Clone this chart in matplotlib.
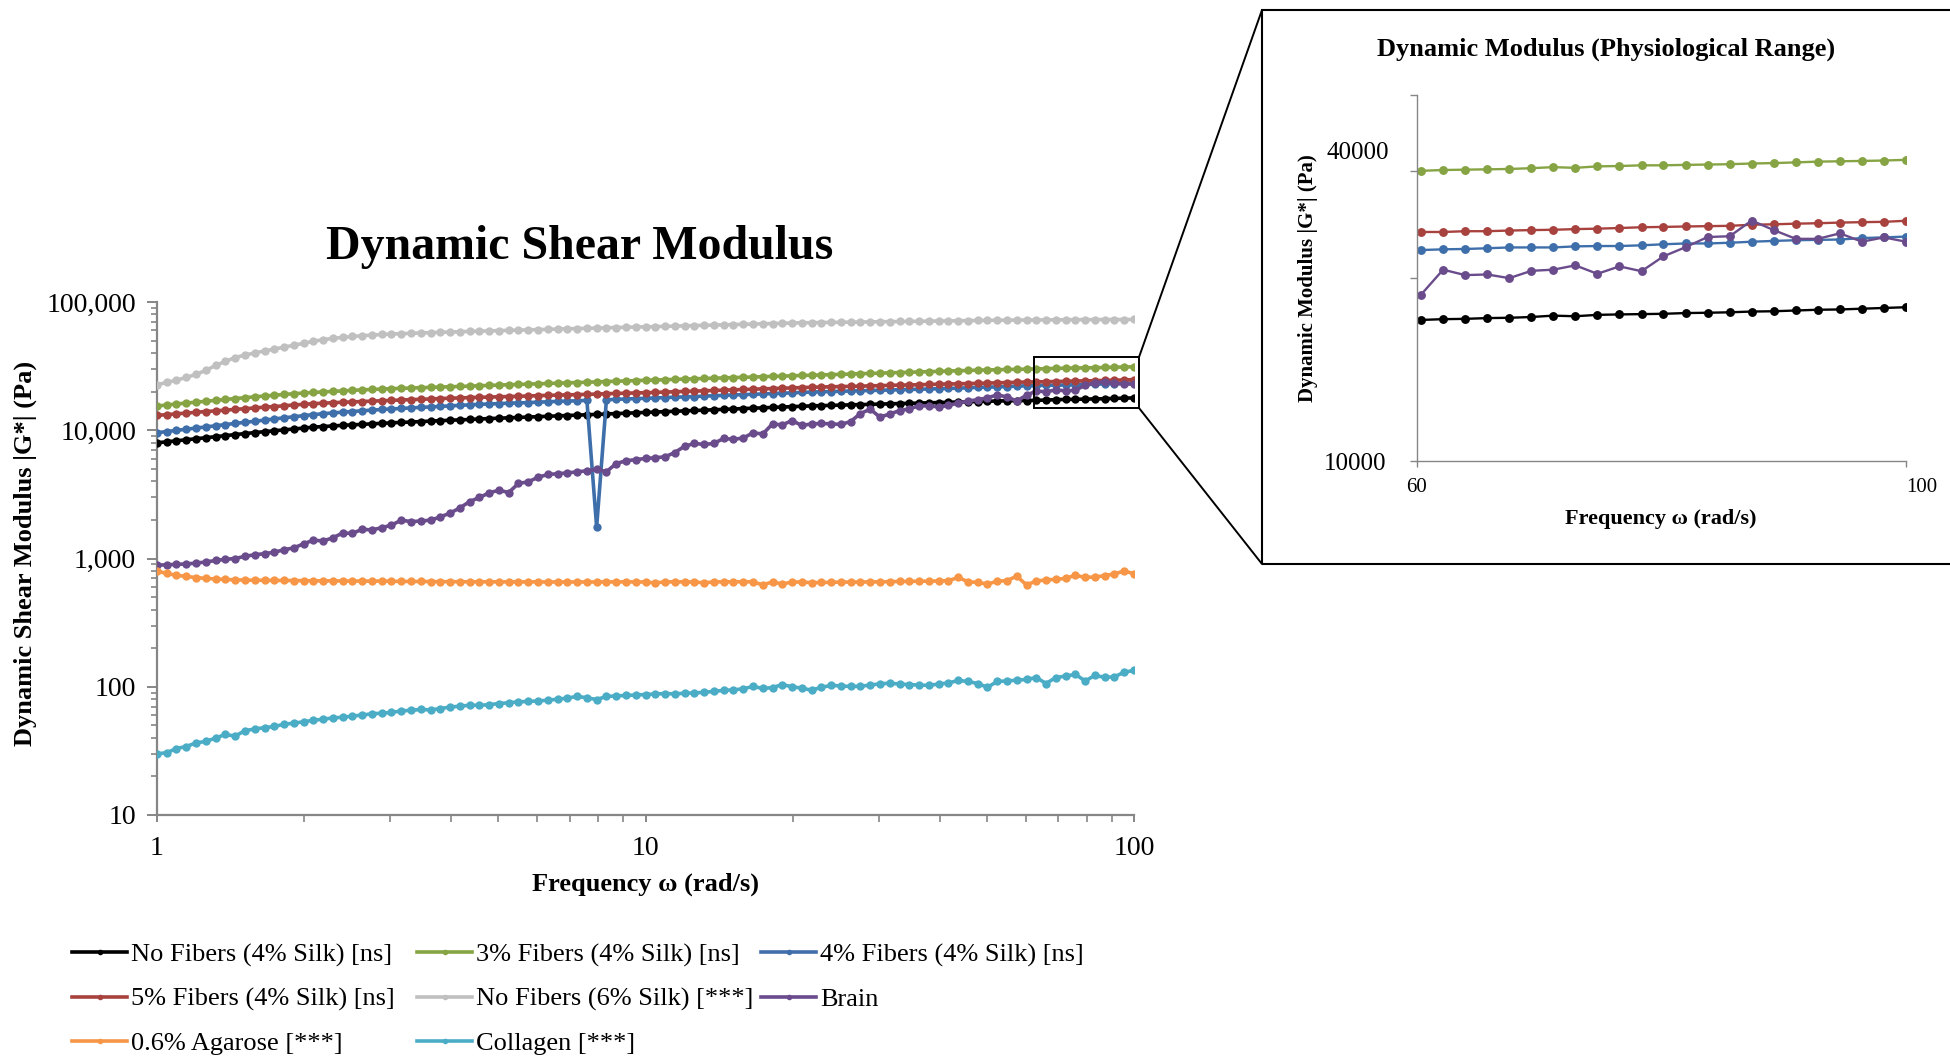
import matplotlib
matplotlib.use('Agg')
import matplotlib.pyplot as plt
from matplotlib.lines import Line2D
from matplotlib.patches import Rectangle, ConnectionPatch
from matplotlib.ticker import FixedLocator, NullLocator, LogLocator, NullFormatter

plt.rcParams['font.family'] = ['Liberation Serif', 'DejaVu Serif']

# ---------------- data (main chart, log frequency sweep) ----------------
FREQ = [1.0, 1.047, 1.096, 1.148, 1.202, 1.259, 1.318, 1.380, 1.445, 1.514,
        1.585, 1.660, 1.738, 1.820, 1.905, 1.995, 2.089, 2.188, 2.291, 2.399,
        2.512, 2.630, 2.754, 2.884, 3.020, 3.162, 3.311, 3.467, 3.631, 3.802,
        3.981, 4.169, 4.365, 4.571, 4.786, 5.012, 5.248, 5.495, 5.754, 6.026,
        6.310, 6.607, 6.918, 7.244, 7.586, 7.943, 8.318, 8.710, 9.120, 9.550,
        10.0, 10.47, 10.96, 11.48, 12.02, 12.59, 13.18, 13.80, 14.45, 15.14,
        15.85, 16.60, 17.38, 18.20, 19.05, 19.95, 20.89, 21.88, 22.91, 23.99,
        25.12, 26.30, 27.54, 28.84, 30.20, 31.62, 33.11, 34.67, 36.31, 38.02,
        39.81, 41.69, 43.65, 45.71, 47.86, 50.12, 52.48, 54.95, 57.54, 60.26,
        63.10, 66.07, 69.18, 72.44, 75.86, 79.43, 83.18, 87.10, 91.20, 95.50,
        100.0]

NO_FIB_4 = [7980, 8130, 8280, 8430, 8590, 8750, 8910, 9080, 9250, 9420,
            9590, 9750, 9910, 10070, 10230, 10400, 10570, 10690, 10810, 10920,
            11020, 11120, 11220, 11320, 11430, 11510, 11590, 11690, 11780, 11880,
            11970, 12050, 12130, 12250, 12330, 12420, 12500, 12590, 12680, 12760,
            12850, 12940, 13030, 13120, 13210, 13300, 13400, 13490, 13580, 13680,
            13770, 13870, 13960, 14060, 14160, 14260, 14350, 14450, 14550, 14660,
            14760, 14860, 14960, 15070, 15170, 15280, 15380, 15490, 15560, 15630,
            15700, 15780, 15850, 15920, 16000, 16070, 16140, 16220, 16290, 16370,
            16440, 16520, 16600, 16670, 16750, 16830, 16900, 16980, 17020, 17050,
            17120, 17190, 17330, 17380, 17430, 17500, 17550, 17620, 17720, 17790,
            17890]

FIB3_4 = [15450, 15740, 16030, 16290, 16560, 16830, 17100, 17380, 17660, 17950,
          18240, 18490, 18750, 19010, 19280, 19500, 19720, 19910, 20090, 20280,
          20460, 20650, 20800, 20940, 21090, 21230, 21330, 21480, 21580, 21730,
          21830, 21980, 22080, 22230, 22390, 22490, 22650, 22750, 22910, 23010,
          23170, 23280, 23440, 23550, 23710, 23820, 23990, 24100, 24270, 24380,
          24550, 24660, 24770, 24950, 25060, 25180, 25350, 25470, 25590, 25760,
          25880, 26000, 26180, 26300, 26420, 26610, 26730, 26850, 26980, 27160,
          27290, 27420, 27610, 27730, 27860, 28050, 28180, 28310, 28510, 28640,
          28770, 28970, 29110, 29240, 29440, 29510, 29650, 29790, 29850, 29970,
          30100, 30180, 30390, 30480, 30600, 30650, 30730, 30860, 31030, 31110,
          31240]

FIB4_4 = [9570, 9770, 9980, 10190, 10400, 10620, 10840, 11070, 11300, 11530,
          11750, 11990, 12250, 12500, 12740, 13000, 13240, 13460, 13650, 13840,
          14000, 14190, 14350, 14520, 14660, 14790, 14930, 15070, 15200, 15350,
          15490, 15630, 15780, 15920, 16030, 16140, 16260, 16330, 16440, 16560,
          16670, 16790, 16870, 16980, 17100, 1755, 17300, 17420, 17540, 17660,
          17740, 17860, 17990, 18110, 18200, 18320, 18450, 18580, 18710, 18840,
          18970, 19050, 19190, 19320, 19450, 19590, 19720, 19860, 19950, 20040,
          20140, 20230, 20320, 20420, 20510, 20610, 20700, 20800, 20890, 20990,
          21090, 21180, 21280, 21430, 21580, 21680, 21780, 21930, 22080, 22210,
          22300, 22430, 22430, 22550, 22610, 22770, 22830, 22990, 23080, 23240,
          23370]

FIB5_4 = [13060, 13240, 13430, 13610, 13800, 14000, 14160, 14350, 14550, 14720,
          14930, 15140, 15310, 15520, 15740, 15920, 16110, 16260, 16410, 16520,
          16630, 16750, 16870, 16980, 17100, 17220, 17340, 17420, 17540, 17660,
          17780, 17860, 17990, 18070, 18150, 18240, 18320, 18410, 18490, 18620,
          18710, 18790, 18880, 18970, 19050, 19140, 19280, 19360, 19450, 19540,
          19630, 19720, 19860, 19950, 20090, 20180, 20320, 20420, 20560, 20650,
          20800, 20890, 21040, 21130, 21280, 21380, 21530, 21630, 21730, 21830,
          21930, 21980, 22080, 22180, 22280, 22390, 22490, 22540, 22650, 22750,
          22860, 22960, 23010, 23120, 23230, 23330, 23440, 23550, 23660, 23780,
          23850, 23910, 23980, 24080, 24210, 24280, 24340, 24480, 24580, 24680,
          24810]

NO_FIB_6 = [22650, 23600, 24600, 25820, 27230, 29310, 31990, 34430, 36900, 38550,
            40090, 41500, 42950, 44460, 46030, 47640, 49430, 50820, 52000, 52970,
            53830, 54580, 55210, 55850, 56230, 56620, 57020, 57410, 57680, 58080,
            58340, 58610, 59020, 59290, 59570, 59840, 60120, 60390, 60670, 60950,
            61240, 61520, 61800, 62090, 62370, 62660, 62950, 63240, 63530, 63830,
            63970, 64270, 64570, 64860, 65160, 65460, 65770, 66070, 66370, 66680,
            66990, 67300, 67610, 67920, 68230, 68550, 68870, 69020, 69180, 69340,
            69500, 69660, 69820, 69980, 70140, 70310, 70470, 70630, 70790, 70960,
            71120, 71290, 71450, 71620, 71780, 71950, 72110, 72200, 72280, 72360,
            72440, 72530, 72610, 72700, 72780, 72860, 72900, 72940, 72980, 73020,
            73060]

BRAIN = [887, 893, 900, 907, 920, 940, 965, 985, 1000, 1040,
         1070, 1090, 1120, 1170, 1210, 1300, 1390, 1370, 1450, 1580,
         1570, 1690, 1670, 1740, 1820, 1990, 1940, 1960, 1990, 2110,
         2260, 2480, 2780, 2990, 3250, 3410, 3270, 3850, 3960, 4300,
         4520, 4580, 4650, 4740, 4830, 4960, 4750, 5500, 5780, 5900,
         6030, 6100, 6210, 6700, 7500, 7890, 7750, 7890, 8630, 8500,
         8700, 9550, 9350, 11220, 11000, 11900, 10900, 11200, 11300, 11220,
         11100, 11700, 13500, 14600, 12650, 13400, 14200, 14700, 15500, 15500,
         15200, 15600, 16300, 16900, 17300, 17900, 18870, 18200, 16900, 18770,
         20200, 19970, 20620, 20300, 20500, 22450, 23400, 23950, 23170, 22920,
         22920]

AGAROSE = [800, 764, 740, 725, 710, 700, 692, 686, 682, 679,
           677, 676, 675, 674, 673, 672, 670, 669, 670, 668,
           667, 667, 666, 668, 664, 663, 662, 662, 661, 660,
           660, 659, 659, 658, 658, 658, 657, 657, 657, 657,
           656, 656, 656, 656, 656, 656, 657, 657, 657, 657,
           656, 645, 657, 658, 657, 656, 646, 657, 658, 658,
           659, 658, 622, 658, 632, 656, 655, 648, 650, 652,
           655, 655, 656, 657, 658, 660, 662, 663, 665, 666,
           668, 672, 711, 660, 650, 632, 665, 672, 728, 622,
           668, 680, 688, 700, 740, 712, 718, 735, 760, 798,
           762]

COLLAGEN = [30.0, 30.6, 33.0, 34.2, 36.5, 37.5, 39.8, 42.5, 41.2, 45.5,
            46.8, 48.0, 49.0, 51.0, 52.0, 53.3, 54.8, 55.8, 57.2, 57.8,
            59.0, 60.2, 61.5, 62.2, 63.0, 64.8, 65.5, 66.5, 66.0, 67.5,
            69.5, 70.5, 71.8, 71.6, 72.5, 74.0, 75.0, 76.3, 76.8, 77.5,
            78.5, 80.0, 81.5, 84.2, 82.0, 79.5, 84.0, 84.8, 85.5, 86.2,
            87.0, 87.8, 88.5, 88.0, 89.0, 89.5, 90.5, 92.0, 93.8, 94.5,
            96.5, 100.5, 97.0, 98.5, 104.0, 100.0, 97.5, 94.0, 99.0, 102.5,
            101.5, 100.5, 101.0, 103.0, 105.5, 106.5, 105.0, 104.0, 103.0, 102.5,
            105.0, 107.0, 112.0, 110.0, 106.0, 99.0, 110.0, 111.0, 112.5, 114.0,
            118.0, 106.0, 118.0, 121.0, 125.0, 111.0, 122.5, 118.5, 119.5, 130.0,
            134.0]

# ---------------- data (inset, physiological range) ----------------
INSET_FREQ = [60.26, 61.66, 63.10, 64.57, 66.07, 67.61, 69.18, 70.79, 72.44, 74.13,
              75.86, 77.62, 79.43, 81.28, 83.18, 85.11, 87.10, 89.13, 91.20, 93.33,
              95.50, 97.72, 100.0]
IN_NO_FIB_4 = [17050, 17100, 17120, 17170, 17190, 17240, 17330, 17290, 17380, 17410,
               17430, 17450, 17500, 17520, 17550, 17600, 17620, 17670, 17720, 17740,
               17790, 17840, 17890]
IN_FIB3_4 = [29970, 30060, 30100, 30140, 30180, 30270, 30390, 30310, 30480, 30520,
             30600, 30600, 30650, 30690, 30730, 30810, 30860, 30940, 31030, 31070,
             31110, 31160, 31240]
IN_FIB4_4 = [22210, 22270, 22300, 22360, 22430, 22430, 22430, 22520, 22550, 22550,
             22610, 22700, 22770, 22770, 22830, 22920, 22990, 23050, 23080, 23110,
             23240, 23300, 23370]
IN_FIB5_4 = [23780, 23780, 23850, 23850, 23910, 23950, 23980, 24040, 24080, 24140,
             24210, 24240, 24280, 24310, 24340, 24440, 24480, 24540, 24580, 24640,
             24680, 24710, 24810]
IN_BRAIN = [18770, 20620, 20200, 20250, 19970, 20530, 20620, 20960, 20300, 20880,
            20500, 21690, 22450, 23330, 23400, 24830, 23950, 23170, 23170, 23660,
            22920, 23300, 22920]

LABELS = ["No Fibers (4% Silk) [ns]", "3% Fibers (4% Silk) [ns]", "4% Fibers (4% Silk) [ns]",
          "5% Fibers (4% Silk) [ns]", "No Fibers (6% Silk) [***]", "Brain",
          "0.6% Agarose [***]", "Collagen [***]"]
COLORS = ["#000000", "#86A443", "#3F6FAA", "#A8423F", "#C0C0C0", "#6A4C8C", "#F79646", "#4BACC6"]
MAIN_SERIES = [NO_FIB_4, FIB3_4, FIB4_4, FIB5_4, NO_FIB_6, BRAIN, AGAROSE, COLLAGEN]
INSET_SERIES = [(IN_NO_FIB_4, 0), (IN_FIB3_4, 1), (IN_FIB4_4, 2), (IN_FIB5_4, 3), (IN_BRAIN, 5)]

X_TICKS = [1, 10, 100]
X_TICK_LABELS = ["1", "10", "100"]
Y_TICKS = [10, 100, 1000, 10000, 100000]
Y_TICK_LABELS = ["10", "100", "1,000", "10,000", "100,000"]
IN_X_TICKS = [60, 100]
IN_X_TICK_LABELS = ["60", "100"]
IN_Y_TICKS = [10000, 20000, 30000, 40000]
IN_Y_TICK_LABELS = ["10000", "", "", ""]
ZOOM_X = (62.4, 102.4)
ZOOM_Y = (14900, 37200)

W, H = 1950, 1060
AXC = '#868686'

fig = plt.figure(figsize=(W / 100, H / 100), dpi=100)

# ---------------- main chart ----------------
ax = fig.add_axes([157 / W, 245 / H, 977 / W, 513 / H])
for vals, col in zip(MAIN_SERIES, COLORS):
    ax.plot(FREQ, vals, color=col, lw=2.6, marker='o', ms=6.0, mew=0,
            solid_joinstyle='round', zorder=3)

ax.set_xscale('log')
ax.set_yscale('log')
ax.set_xlim(1, 100)
ax.set_ylim(10, 100000)
ax.xaxis.set_major_locator(FixedLocator(X_TICKS))
ax.set_xticklabels(X_TICK_LABELS)
ax.yaxis.set_major_locator(FixedLocator(Y_TICKS))
ax.set_yticklabels(Y_TICK_LABELS)
for a in (ax.xaxis, ax.yaxis):
    a.set_minor_locator(LogLocator(base=10, subs=range(2, 10)))
    a.set_minor_formatter(NullFormatter())
ax.tick_params(axis='y', which='major', length=7, width=1.4, color=AXC, pad=8, labelsize=20)
ax.tick_params(axis='y', which='minor', length=4.5, width=1.2, color=AXC)
ax.tick_params(axis='x', which='major', length=5, width=1.4, color=AXC, pad=10, labelsize=20)
ax.tick_params(axis='x', which='minor', length=5, width=1.2, color=AXC)
for s in ('top', 'right'):
    ax.spines[s].set_visible(False)
for s in ('left', 'bottom'):
    ax.spines[s].set_color(AXC)
    ax.spines[s].set_linewidth(1.6)

ax.set_xlabel('Frequency ω (rad/s)', fontsize=19, fontweight='bold')
ax.xaxis.set_label_coords(0.5, -0.1345)
ax.xaxis.label.set_va('center')
ax.set_ylabel('Dynamic Shear Modulus |G*| (Pa)', fontsize=19, fontweight='bold')
ax.yaxis.set_label_coords(-0.1351, 0.5107)
ax.yaxis.label.set_va('center')

fig.text(580 / W, 1 - 247 / H, 'Dynamic Shear Modulus', fontsize=34.5, fontweight='bold',
         ha='center', va='center')

# zoom indicator rectangle on main chart
ax.add_patch(Rectangle((ZOOM_X[0], ZOOM_Y[0]), ZOOM_X[1] - ZOOM_X[0], ZOOM_Y[1] - ZOOM_Y[0],
                       fill=False, ec='black', lw=1.4, clip_on=False, zorder=5))

# inset frame and connectors
fig.add_artist(Rectangle((1262 / W, 1 - 564 / H), 700 / W, 554 / H, transform=fig.transFigure,
                         fill=False, ec='black', lw=1.5))
for yd, yf in ((ZOOM_Y[1], 10), (ZOOM_Y[0], 564)):
    fig.add_artist(ConnectionPatch(xyA=(ZOOM_X[1], yd), coordsA=ax.transData,
                                   xyB=(1262 / W, 1 - yf / H), coordsB=fig.transFigure,
                                   color='black', lw=1.4))

# ---------------- inset chart ----------------
axi = fig.add_axes([1417 / W, 599 / H, 489 / W, 366.5 / H])
for vals, ci in INSET_SERIES:
    axi.plot(INSET_FREQ, vals, color=COLORS[ci], lw=1.7, marker='o', ms=6.4, mew=0,
             solid_joinstyle='round')
axi.set_xscale('log')
axi.set_yscale('log')
axi.set_xlim(60, 100)
axi.set_ylim(10000, 40000)
axi.xaxis.set_major_locator(FixedLocator(IN_X_TICKS))
xl = axi.set_xticklabels(IN_X_TICK_LABELS)
xl[1].set_ha('left')
axi.xaxis.set_minor_locator(NullLocator())
axi.yaxis.set_major_locator(FixedLocator(IN_Y_TICKS))
axi.set_yticklabels(IN_Y_TICK_LABELS)
axi.yaxis.set_minor_locator(NullLocator())
axi.tick_params(axis='y', length=5, width=1, color=AXC, pad=17, labelsize=18)
axi.tick_params(axis='x', length=4, width=1, color=AXC, pad=8, labelsize=15)
for s in ('top', 'right'):
    axi.spines[s].set_visible(False)
for s in ('left', 'bottom'):
    axi.spines[s].set_color(AXC)
    axi.spines[s].set_linewidth(1.0)
axi.text(-0.058, 0.84, '40000', transform=axi.transAxes, fontsize=18, ha='right', va='center')
axi.set_xlabel('Frequency ω (rad/s)', fontsize=16, fontweight='bold')
axi.xaxis.set_label_coords(0.498, -0.158)
axi.xaxis.label.set_va('center')
axi.set_ylabel('Dynamic Modulus |G*| (Pa)', fontsize=15, fontweight='bold')
axi.yaxis.set_label_coords(-0.223, 0.499)
axi.yaxis.label.set_va('center')
fig.text(1606 / W, 1 - 49 / H, 'Dynamic Modulus (Physiological Range)', fontsize=19,
         fontweight='bold', ha='center', va='center')

# ---------------- legend: three columns placed like the original ----------------
handles = [Line2D([], [], color=c, lw=2.6, marker='o', ms=4, mew=0) for c in COLORS]
LEGEND_COLUMNS = [([0, 3, 6], 72), ([1, 4, 7], 417), ([2, 5], 761)]
for idx, xpix in LEGEND_COLUMNS:
    fig.legend([handles[i] for i in idx], [LABELS[i] for i in idx],
               loc='upper left', bbox_to_anchor=(xpix / W, 1 - 943 / H), ncol=1,
               frameon=False, fontsize=19, handlelength=2.1, handletextpad=0.15,
               labelspacing=0.78, borderpad=0, borderaxespad=0)

fig.savefig('out.png', dpi=100)
